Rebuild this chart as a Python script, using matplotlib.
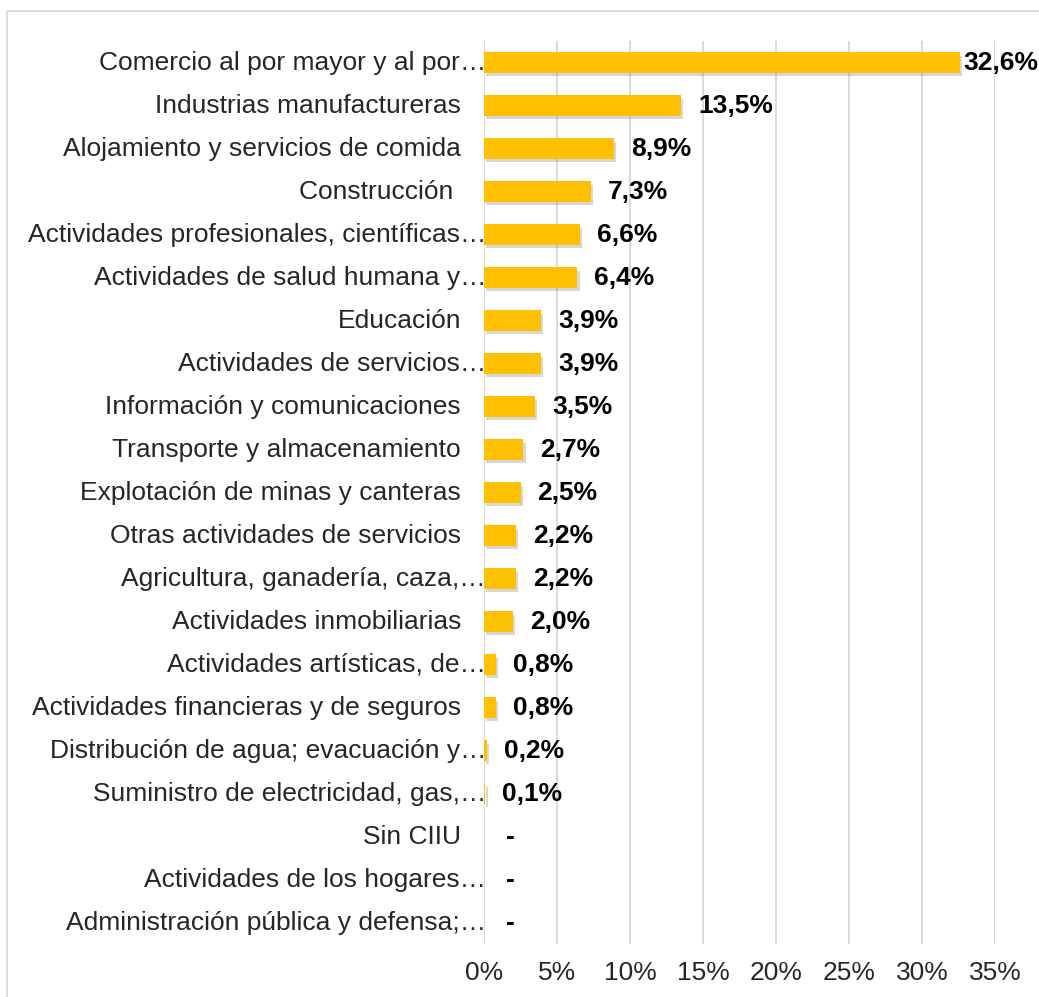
import matplotlib
matplotlib.use("Agg")
import matplotlib.pyplot as plt
from matplotlib import patheffects as pe
from matplotlib.patches import Rectangle

categories = [
    "Comercio al por mayor y al por…",
    "Industrias manufactureras",
    "Alojamiento y servicios de comida",
    "Construcción ",
    "Actividades profesionales, científicas…",
    "Actividades de salud humana y…",
    "Educación",
    "Actividades de servicios…",
    "Información y comunicaciones",
    "Transporte y almacenamiento",
    "Explotación de minas y canteras",
    "Otras actividades de servicios",
    "Agricultura, ganadería, caza,…",
    "Actividades inmobiliarias",
    "Actividades artísticas, de…",
    "Actividades financieras y de seguros",
    "Distribución de agua; evacuación y…",
    "Suministro de electricidad, gas,…",
    "Sin CIIU",
    "Actividades de los hogares…",
    "Administración pública y defensa;…",
]
values = [32.6, 13.5, 8.9, 7.3, 6.6, 6.4, 3.9, 3.9, 3.5, 2.7, 2.5, 2.2, 2.2, 2.0,
          0.8, 0.8, 0.2, 0.1, 0.0, 0.0, 0.0]
value_labels = ["32,6%", "13,5%", "8,9%", "7,3%", "6,6%", "6,4%", "3,9%", "3,9%",
                "3,5%", "2,7%", "2,5%", "2,2%", "2,2%", "2,0%", "0,8%", "0,8%",
                "0,2%", "0,1%", "-", "-", "-"]
xticks = [0, 5, 10, 15, 20, 25, 30, 35]
xtick_labels = ["0%", "5%", "10%", "15%", "20%", "25%", "30%", "35%"]

plt.rcParams['font.family'] = ['Liberation Sans', 'DejaVu Sans']

W, H = 1039, 997
FS = 19
fig = plt.figure(figsize=(W / 100, H / 100), dpi=100)
fig.patches.append(Rectangle((7 / W, -0.1), 1.2, 1 - 11 / H + 0.1, transform=fig.transFigure,
                             fill=False, edgecolor="#D9D9D9", linewidth=1.3))

ax = fig.add_axes([484 / W, 1 - 944 / H, (995 - 484) / W, (944 - 41) / H])
ypos = list(range(len(categories)))
bars = ax.barh(ypos, values, height=0.47, color="#FFC000", zorder=3)
for b in bars:
    b.set_path_effects([pe.SimplePatchShadow(offset=(1.5, -2.5), shadow_rgbFace="#606060", alpha=0.25),
                        pe.Normal()])

ax.set_xlim(0, 35)
ax.set_ylim(len(categories) - 0.5, -0.5)
ax.set_xticks(xticks)
ax.set_xticklabels(xtick_labels, fontsize=FS, color="#262626")
ax.tick_params(axis='x', length=0, pad=12)
ax.set_yticks([])
ax.grid(axis='x', color="#D9D9D9", linewidth=1.4, zorder=0)
for s in ax.spines.values():
    s.set_visible(False)

for i, (cat, v, lab) in enumerate(zip(categories, values, value_labels)):
    pad = -2 if cat.endswith("…") else 23
    ax.annotate(cat, xy=(0, i), xycoords=('axes fraction', 'data'), xytext=(-pad, 0),
                textcoords='offset pixels', ha='right', va='center', fontsize=FS,
                color="#262626", annotation_clip=False)
    off = 3 if v > 30 else 17
    if lab == "-":
        off = 22
    ax.annotate(lab, xy=(v, i), xycoords='data', xytext=(off, 0), textcoords='offset pixels',
                ha='left', va='center', fontsize=FS, fontweight='bold', color="#000000",
                annotation_clip=False)

fig.savefig("out.png", dpi=100)
